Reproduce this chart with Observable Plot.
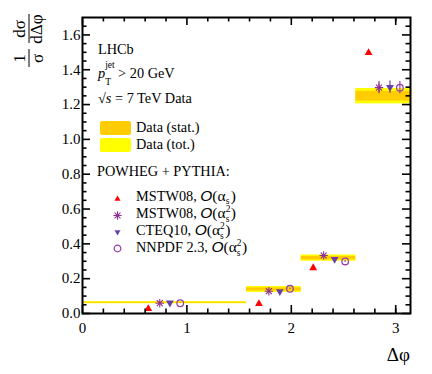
<!DOCTYPE html>
<html><head><meta charset="utf-8">
<script src="https://cdn.jsdelivr.net/npm/d3@7"></script>
<script src="https://cdn.jsdelivr.net/npm/@observablehq/plot@0.6"></script>
<style>body{margin:0;background:#fff}</style>
</head><body><div id="chart"></div>
<script>
// Bin edges in Δφ
const binLo = [0, Math.PI / 2, 2 * Math.PI / 3, 5 * Math.PI / 6];
const binHi = [Math.PI / 2, 2 * Math.PI / 3, 5 * Math.PI / 6, Math.PI];
// Data
const dataValues = [0.062, 0.138, 0.318, 1.248];
const statErr = [0.003, 0.009, 0.010, 0.028];
const totErr = [0.006, 0.017, 0.018, 0.044];
// POWHEG + PYTHIA predictions
const mstwLoX = [0.63, 1.69, 2.21, 2.74];
const mstwLoY = [0.027, 0.056, 0.262, 1.498];
const mstwNloX = [0.74, 1.785, 2.31, 2.84];
const mstwNloY = [0.059, 0.128, 0.333, 1.297];
const cteqX = [0.837, 1.89, 2.415, 2.945];
const cteqY = [0.061, 0.126, 0.312, 1.300];
const nnpdfX = [0.936, 1.987, 2.516, 3.04];
const nnpdfY = [0.059, 0.142, 0.299, 1.297];
const theoryErr = [0.002, 0.004, 0.006, 0.035];
// Ticks
const xMajor = [0, 1, 2, 3];
const xMinor = [0.2, 0.4, 0.6, 0.8, 1.2, 1.4, 1.6, 1.8, 2.2, 2.4, 2.6, 2.8, 3.0];
const yMajor = [0, 0.2, 0.4, 0.6, 0.8, 1.0, 1.2, 1.4, 1.6];
const yMinor = [0.05, 0.1, 0.15, 0.25, 0.3, 0.35, 0.45, 0.5, 0.55, 0.65, 0.7, 0.75, 0.85, 0.9, 0.95, 1.05, 1.1, 1.15, 1.25, 1.3, 1.35, 1.45, 1.5, 1.55, 1.65];

const W = 432, H = 374, mL = 82, mR = 22, mT = 17, mB = 61;
const pW = W - mL - mR, pH = H - mT - mB;
const SERIF = "Liberation Serif, Times New Roman, serif";

const bins = dataValues.map((v, i) => ({x1: binLo[i], x2: binHi[i], v, s: statErr[i], t: totErr[i]}));
const series = (xs, ys) => xs.map((x, i) => ({x, y: ys[i], e: theoryErr[i]}));
const sLo = series(mstwLoX, mstwLoY), sNlo = series(mstwNloX, mstwNloY),
      sCteq = series(cteqX, cteqY), sNn = series(nnpdfX, nnpdfY);

const RED = "#ff0000", STAR = "#8e2f92", TRI = "#6a3fa8", CIRC = "#9a3fb2";

const errRule = (data, color) => Plot.ruleX(data, {x: "x", y1: d => d.y - d.e, y2: d => d.y + d.e, stroke: color, strokeWidth: 1.2});

const chart = Plot.plot({
  width: W, height: H,
  marginLeft: mL, marginRight: mR, marginTop: mT, marginBottom: mB,
  style: {fontFamily: SERIF, fontSize: "15px", background: "#fff", overflow: "visible"},
  x: {domain: [0, Math.PI], axis: null},
  y: {domain: [0, 1.7], axis: null},
  marks: [
    Plot.rect(bins, {x1: "x1", x2: "x2", y1: d => d.v - d.t, y2: d => d.v + d.t, fill: "#ffff00"}),
    Plot.rect(bins, {x1: "x1", x2: "x2", y1: d => d.v - d.s, y2: d => d.v + d.s, fill: "#ffcc00"}),
    errRule(sNlo, STAR), errRule(sCteq, TRI), errRule(sNn, CIRC),
    Plot.dot(sLo, {x: "x", y: "y", symbol: "triangle", fill: RED, r: 2.9}),
    Plot.dot(sNlo, {x: "x", y: "y", symbol: "plus", stroke: STAR, r: 2.8, strokeWidth: 1.1}),
    Plot.dot(sNlo, {x: "x", y: "y", symbol: "times", stroke: STAR, r: 2.8, strokeWidth: 1.1}),
    Plot.dot(sCteq, {x: "x", y: "y", symbol: "triangle", rotate: 180, fill: TRI, r: 2.9}),
    Plot.dot(sNn, {x: "x", y: "y", symbol: "circle", stroke: CIRC, fill: "none", r: 3.3, strokeWidth: 1.3}),
    // inward ticks
    Plot.tickX(xMajor, {x: d => d, insetTop: pH - 8, strokeWidth: 1.6}),
    Plot.tickX(xMinor, {x: d => d, insetTop: pH - 4.5, strokeWidth: 1.6}),
    Plot.tickX(xMajor, {x: d => d, insetBottom: pH - 8, strokeWidth: 1.6}),
    Plot.tickX(xMinor, {x: d => d, insetBottom: pH - 4.5, strokeWidth: 1.6}),
    Plot.tickY(yMajor, {y: d => d, insetRight: pW - 8, strokeWidth: 1.6}),
    Plot.tickY(yMinor, {y: d => d, insetRight: pW - 4.5, strokeWidth: 1.6}),
    Plot.tickY(yMajor, {y: d => d, insetLeft: pW - 8, strokeWidth: 1.6}),
    Plot.tickY(yMinor, {y: d => d, insetLeft: pW - 4.5, strokeWidth: 1.6}),
    Plot.axisX(xMajor, {tickSize: 0, tickPadding: 9, fontSize: 15, tickFormat: d => String(d), label: null}),
    Plot.axisY(yMajor, {tickSize: 0, tickPadding: 2, fontSize: 15, tickFormat: d => d.toFixed(1), label: null}),
    Plot.frame({strokeWidth: 2})
  ]
});
document.getElementById("chart").append(chart);

const svg = d3.select(chart);
const g = svg.append("g").attr("fill", "#000").attr("text-anchor", "start").attr("font-family", SERIF);

function rich(x, y, parts, size) {
  let cx = x;
  for (const p of parts) {
    cx += p.dx || 0;
    const t = g.append("text").attr("x", cx).attr("y", y + (p.dy || 0))
      .attr("font-size", p.size || size)
      .attr("font-style", p.italic ? "italic" : null)
      .attr("font-family", p.family || null)
      .text(p.t);
    if (!p.keep) cx += t.node().getComputedTextLength();
  }
}
const FS = 14.3;
rich(98, 54, [{t: "LHCb"}], FS);
rich(98, 78, [{t: "p", italic: true}, {t: "jet", dy: -10, size: 9.5, keep: true}, {t: "T", dy: 7, size: 9.5}, {t: "  > 20 GeV"}], FS);
rich(98, 103, [{t: "\u221A"}, {t: "s", italic: true}, {t: " = 7 TeV Data"}], FS);

g.append("rect").attr("x", 100).attr("y", 121).attr("width", 31).attr("height", 14).attr("rx", 2).attr("fill", "#ffcc00");
g.append("rect").attr("x", 100).attr("y", 138).attr("width", 31).attr("height", 14).attr("rx", 2).attr("fill", "#ffff00");
rich(136, 132, [{t: "Data (stat.)"}], FS);
rich(136, 149, [{t: "Data (tot.)"}], FS);
rich(97, 176, [{t: "POWHEG + PYTHIA:"}], FS);

const O = {t: "O", italic: true, dx: 3.5, size: 15.5, family: "Liberation Sans, Arial, sans-serif"};
const a1 = [O, {t: "(\u03B1", size: 15.5}, {t: "s", dy: 3, size: 9.5}, {t: ")", dx: 1.5, size: 15.5}];
const a2 = [O, {t: "(\u03B1", size: 15.5}, {t: "2", dy: -6, size: 9.5, keep: true}, {t: "s", dy: 4, size: 9.5}, {t: ")", dx: 1.5, size: 15.5}];
rich(136, 201, [{t: "MSTW08,"}, ...a1], FS);
rich(136, 218, [{t: "MSTW08,"}, ...a2], FS);
rich(136, 235, [{t: "CTEQ10,"}, ...a2], FS);
rich(136, 252, [{t: "NNPDF 2.3,"}, ...a2], FS);

const lx = 117.5;
const area = r => Math.PI * r * r;
g.append("path").attr("d", d3.symbol(d3.symbolTriangle2, area(2.9))()).attr("transform", `translate(${lx},199)`).attr("fill", RED);
g.append("path").attr("d", d3.symbol(d3.symbolPlus, area(2.8))()).attr("transform", `translate(${lx},215.5)`).attr("fill", "none").attr("stroke", STAR).attr("stroke-width", 1.1);
g.append("path").attr("d", d3.symbol(d3.symbolTimes, area(2.8))()).attr("transform", `translate(${lx},215.5)`).attr("fill", "none").attr("stroke", STAR).attr("stroke-width", 1.1);
g.append("path").attr("d", d3.symbol(d3.symbolTriangle2, area(2.9))()).attr("transform", `translate(${lx},232) rotate(180)`).attr("fill", TRI);
g.append("path").attr("d", d3.symbol(d3.symbolCircle, area(3.3))()).attr("transform", `translate(${lx},248.5)`).attr("fill", "none").attr("stroke", CIRC).attr("stroke-width", 1.3);

// x-axis title
g.append("text").attr("x", 410).attr("y", 361).attr("text-anchor", "end").attr("font-size", 19).text("\u0394\u03C6");

// y-axis title: 1/σ dσ/dΔφ (rotated)
const yl = g.append("g").attr("transform", "translate(0,70) rotate(-90)").attr("font-size", 17).attr("text-anchor", "middle");
yl.append("text").attr("x", 11.5).attr("y", 25).text("1");
yl.append("line").attr("x1", 3).attr("x2", 21).attr("y1", 29).attr("y2", 29).attr("stroke", "#000").attr("stroke-width", 1);
yl.append("text").attr("x", 11.5).attr("y", 43).text("\u03C3");
yl.append("text").attr("x", 41).attr("y", 25).text("d\u03C3");
yl.append("line").attr("x1", 27).attr("x2", 56).attr("y1", 29).attr("y2", 29).attr("stroke", "#000").attr("stroke-width", 1);
yl.append("text").attr("x", 41).attr("y", 42).text("d\u0394\u03C6");
</script>
</body></html>
